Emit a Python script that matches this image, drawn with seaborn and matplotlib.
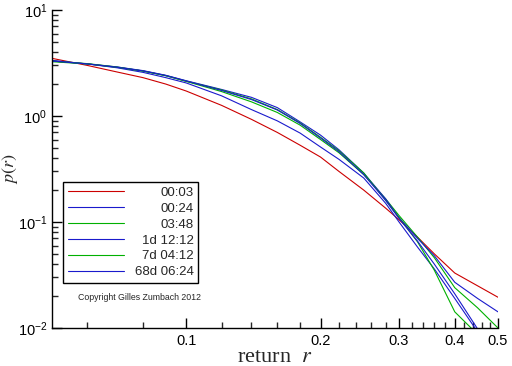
import matplotlib
matplotlib.use('Agg')
import matplotlib.pyplot as plt
import matplotlib.ticker as mticker
import seaborn as sns

# return grid
r_vals = [0.05, 0.06, 0.07, 0.08, 0.09, 0.10, 0.12, 0.14, 0.16, 0.18, 0.20,
          0.22, 0.25, 0.28, 0.30, 0.33, 0.36, 0.40, 0.45, 0.50]

# p(r) for each time horizon
p_0003 = [3.5, 3.0, 2.6, 2.3, 2.0, 1.72, 1.26, 0.93, 0.70, 0.53, 0.41,
          0.30, 0.20, 0.135, 0.105, 0.072, 0.050, 0.033, 0.025, 0.0195]
p_0024 = [3.35, 3.1, 2.85, 2.58, 2.3, 2.05, 1.55, 1.15, 0.90, 0.69, 0.51,
          0.39, 0.26, 0.15, 0.10, 0.058, 0.036, 0.019, 0.0092, 0.005]
p_0348 = [3.3, 3.12, 2.9, 2.66, 2.4, 2.12, 1.70, 1.36, 1.08, 0.82, 0.60,
          0.45, 0.28, 0.165, 0.115, 0.072, 0.046, 0.024, 0.0155, 0.010]
p_1d = [3.3, 3.1, 2.9, 2.68, 2.42, 2.15, 1.78, 1.50, 1.20, 0.88, 0.66,
        0.48, 0.29, 0.165, 0.11, 0.07, 0.048, 0.027, 0.019, 0.0142]
p_7d = [3.25, 3.1, 2.88, 2.65, 2.4, 2.13, 1.76, 1.45, 1.15, 0.86, 0.63,
        0.47, 0.29, 0.16, 0.11, 0.065, 0.035, 0.0142, 0.0087, 0.005]
p_68d = [3.3, 3.1, 2.88, 2.66, 2.41, 2.14, 1.74, 1.43, 1.14, 0.85, 0.62,
         0.46, 0.28, 0.16, 0.108, 0.066, 0.040, 0.021, 0.0098, 0.005]

labels = ['00:03', '00:24', '03:48', '1d 12:12', '7d 04:12', '68d 06:24']
series = [p_0003, p_0024, p_0348, p_1d, p_7d, p_68d]
colors = ['#cc0000', '#1a1acc', '#00b000', '#1a1acc', '#00b000', '#1a1acc']

sns.set_style('ticks')
plt.rcParams['font.family'] = ['Liberation Sans', 'DejaVu Sans']
plt.rcParams['mathtext.fontset'] = 'stix'
plt.rcParams['xtick.direction'] = 'in'
plt.rcParams['ytick.direction'] = 'in'

fig = plt.figure(figsize=(5.12, 3.66), dpi=100)
ax = fig.add_axes([52/512, 1 - 328/366, 446/512, 318/366])

for ys, lab, c in zip(series, labels, colors):
    sns.lineplot(x=r_vals, y=ys, color=c, label=lab, linewidth=0.8, ax=ax)

ax.set_xscale('log')
ax.set_yscale('log')
ax.set_xlim(0.05, 0.5)
ax.set_ylim(0.01, 10)

sns.despine(ax=ax)
for s in ['left', 'bottom']:
    ax.spines[s].set_linewidth(1.0)
    ax.spines[s].set_color('black')

# x ticks
ax.xaxis.set_major_locator(mticker.FixedLocator([0.1, 0.2, 0.3, 0.4, 0.5]))
ax.xaxis.set_major_formatter(mticker.FixedFormatter(['0.1', '0.2', '0.3', '0.4', '0.5']))
minor_x = [0.06, 0.08] + [round(0.12 + 0.02 * i, 2) for i in range(19)]
ax.xaxis.set_minor_locator(mticker.FixedLocator(minor_x))
ax.xaxis.set_minor_formatter(mticker.NullFormatter())

# y ticks
ax.yaxis.set_major_locator(mticker.LogLocator(base=10))
ax.yaxis.set_minor_locator(mticker.LogLocator(base=10, subs=range(2, 10)))
ax.yaxis.set_minor_formatter(mticker.NullFormatter())

ax.tick_params(which='major', length=7, width=1, labelsize=10.5, colors='black')
ax.tick_params(which='minor', length=4, width=1)
ax.tick_params(axis='x', pad=4)

ax.set_xlabel('return  $r$', fontsize=16, family=['Liberation Serif'], labelpad=0)
ax.set_ylabel('$p(r)$', fontsize=13)
ax.yaxis.set_label_coords(-0.072, 0.5)

leg = ax.legend(loc='lower left', bbox_to_anchor=(0.0247, 0.1415), borderaxespad=0,
                fontsize=9.5, handlelength=4.3, handletextpad=0.8, labelspacing=0.28,
                borderpad=0.35, fancybox=False, frameon=True, framealpha=1)
leg.get_frame().set_edgecolor('black')
leg.get_frame().set_linewidth(1.0)

# right-align the legend labels
fig.canvas.draw()
renderer = fig.canvas.get_renderer()
widths = [t.get_window_extent(renderer).width for t in leg.get_texts()]
shift = max(widths)
for t, w in zip(leg.get_texts(), widths):
    t.set_position((shift - w, 0))

ax.text(0.058, 0.097, 'Copyright Gilles Zumbach 2012', transform=ax.transAxes,
        fontsize=6.3, va='center', ha='left')

fig.savefig('out.png', dpi=100)
